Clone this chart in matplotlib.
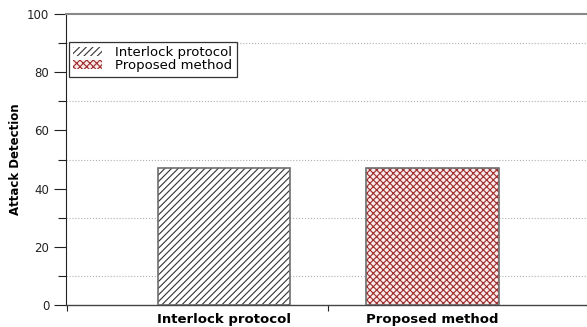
import numpy as np
import matplotlib.pyplot as plt
from matplotlib.ticker import MultipleLocator, FixedLocator

categories = ['Interlock protocol', 'Proposed method']
values = [47, 47]
positions = [1, 2]
hatches = ['/////', 'xxxxx']
faces = ['white', '#fbe9e9']
hatch_colors = ['#333333', '#9c2b2b']

plt.rcParams['hatch.linewidth'] = 0.8

fig = plt.figure(figsize=(5.87, 3.27), dpi=100)
ax = fig.add_axes([66 / 587, 1 - 305 / 327, 1 - 66 / 587 + 0.01, 291 / 327])

for p, v, h, f, hc, lab in zip(positions, values, hatches, faces, hatch_colors, categories):
    ax.bar(p, v, width=0.635, color=f, hatch=h, edgecolor=hc, linewidth=0, label=lab, zorder=2)
    # outline in gray
    ax.bar(p, v, width=0.635, fill=False, edgecolor='#6e6e6e', linewidth=1.2, zorder=3)

ax.set_xlim(0.24, 2.77)
ax.set_ylim(0, 100)

ax.yaxis.set_major_locator(MultipleLocator(20))
ax.yaxis.set_minor_locator(MultipleLocator(10))
ax.tick_params(axis='y', which='major', length=9, width=0.8, labelsize=8.5, pad=3, colors='#222222')
ax.tick_params(axis='y', which='minor', length=6, width=0.8, color='#222222')

ax.set_xticks(positions)
ax.set_xticklabels(categories, fontsize=9.5, fontweight='bold')
ax.tick_params(axis='x', which='major', length=0, pad=6)
ax.xaxis.set_minor_locator(FixedLocator([0.245, 1.5]))
ax.tick_params(axis='x', which='minor', length=4, width=0.8, color='#222222')

ax.grid(True, axis='y', which='minor', linestyle=':', color='#b0b0b0', linewidth=0.8, zorder=0)

ax.spines['right'].set_visible(False)
ax.spines['top'].set_color('#888888')
ax.spines['top'].set_linewidth(1.5)
ax.spines['left'].set_color('#222222')
ax.spines['left'].set_linewidth(0.8)
ax.spines['bottom'].set_color('#444444')
ax.spines['bottom'].set_linewidth(1.0)

ax.set_ylabel('Attack Detection', fontsize=8.5, fontweight='bold',
              family=['Liberation Sans Narrow', 'DejaVu Sans'], labelpad=4)

handles, labels = ax.get_legend_handles_labels()
leg = ax.legend(handles[:2], labels[:2], loc='upper left', bbox_to_anchor=(0.005, 0.905),
                fontsize=9.5, frameon=True, fancybox=False, edgecolor='black',
                handlelength=2.2, handleheight=0.6, labelspacing=0.0, borderpad=0.35,
                handletextpad=1.0, borderaxespad=0)
leg.get_frame().set_linewidth(0.9)
leg.set_zorder(5)

fig.savefig('out.png', dpi=100)
